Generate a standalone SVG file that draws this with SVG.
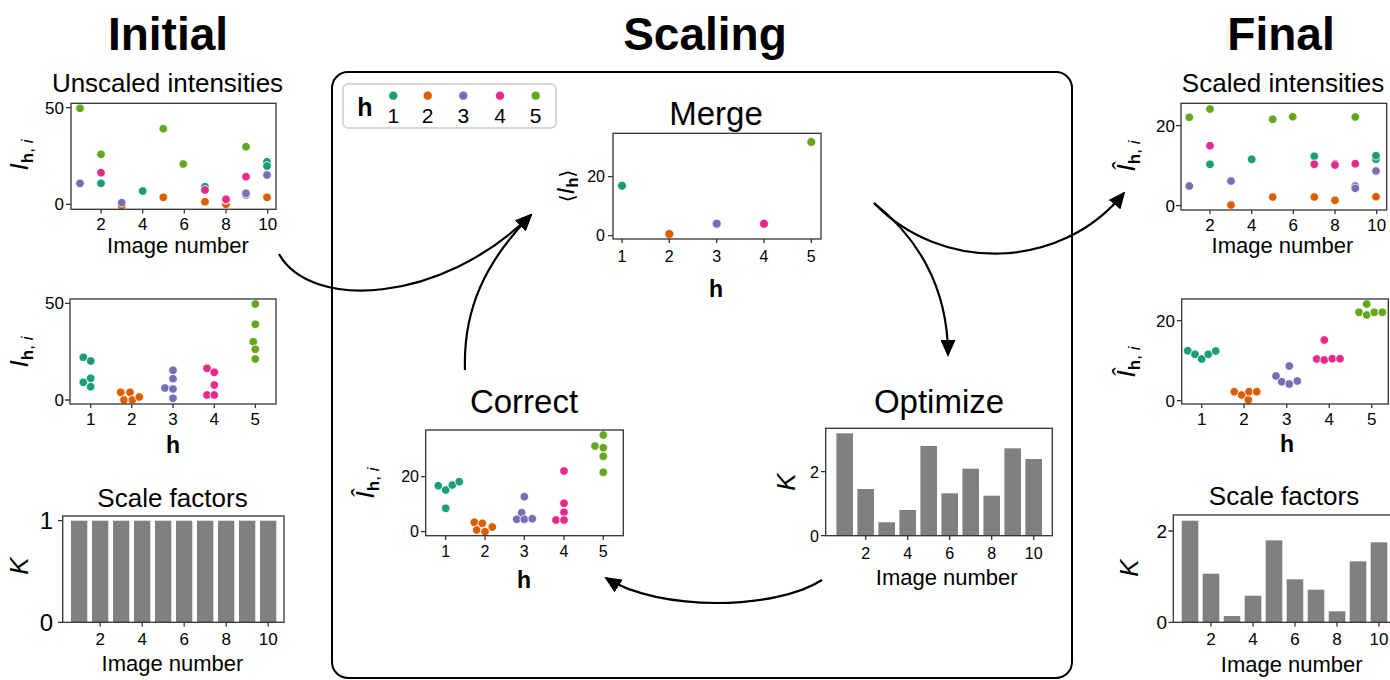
<svg xmlns="http://www.w3.org/2000/svg" width="1390" height="680" viewBox="0 0 1390 680">
<defs>
<style>
text{font-family:'Liberation Sans',Arial,Helvetica,sans-serif;fill:#000}
.hdr{font-size:46px;font-weight:bold;text-anchor:middle}
.ttl{font-size:26px;text-anchor:middle}
.big{font-size:33px;text-anchor:middle}
.xl{font-size:22px;text-anchor:middle}
.hl{font-size:23px;font-weight:bold;text-anchor:middle}
.tx{font-size:17px;text-anchor:middle}
.ty{font-size:17px;text-anchor:end}
.tym{font-size:16px;text-anchor:end}
.txm{font-size:16px;text-anchor:middle}
.tyb{font-size:24px;text-anchor:end}
.yl{font-size:26px;text-anchor:middle}
.it{font-style:italic}
.sub{font-size:17px}
.b{font-weight:bold}
.frame{fill:none;stroke:#333;stroke-width:1.3}
.tk{stroke:#333;stroke-width:1.3;fill:none}
.bar{fill:#808080}
.c1{fill:#1b9e77}.c2{fill:#d95f02}.c3{fill:#7570b3}.c4{fill:#e7298a}.c5{fill:#66a61e}
circle{stroke:#fff;stroke-width:0.8}
.conn{fill:none;stroke:#000;stroke-width:2.2}
</style>
<marker id="ah" viewBox="0 0 17 15" refX="15" refY="7.5" markerWidth="17" markerHeight="15" markerUnits="userSpaceOnUse" orient="auto">
<path d="M0,0 L17,7.5 L0,15 z" fill="#000"/>
</marker>
</defs>
<rect width="1390" height="680" fill="#fff"/>

<g id="headers">
<text class="hdr" x="168" y="50">Initial</text>
<text class="hdr" x="705" y="50">Scaling</text>
<text class="hdr" x="1281" y="50">Final</text>
</g>

<g id="scaling-box">
<rect x="332" y="72" width="740" height="606" rx="16" fill="none" stroke="#000" stroke-width="2"/>
</g>

<g id="legend">
<rect x="343" y="84" width="213" height="44" rx="5" fill="#fff" stroke="#ccc" stroke-width="1.5"/>
<text x="365" y="116" style="font-size:25px;font-weight:bold;text-anchor:middle">h</text>
<circle class="c1" cx="393.3" cy="95.7" r="4.6"/>
<circle class="c2" cx="427.7" cy="95.7" r="4.6"/>
<circle class="c3" cx="463.3" cy="95.7" r="4.6"/>
<circle class="c4" cx="500" cy="95.7" r="4.6"/>
<circle class="c5" cx="535.7" cy="95.7" r="4.6"/>
<text x="393.3" y="123" style="font-size:21px;text-anchor:middle">1</text>
<text x="427.7" y="123" style="font-size:21px;text-anchor:middle">2</text>
<text x="463.3" y="123" style="font-size:21px;text-anchor:middle">3</text>
<text x="500" y="123" style="font-size:21px;text-anchor:middle">4</text>
<text x="535.7" y="123" style="font-size:21px;text-anchor:middle">5</text>
</g>

<!-- Initial: unscaled intensities by image -->
<g id="initial-unscaled">
<text class="ttl" x="167.5" y="91.5">Unscaled intensities</text>
<path class="tk" d="M66,107.7H71M66,204.3H71M101,209.3V213.5M142.7,209.3V213.5M184.3,209.3V213.5M226,209.3V213.5M267.7,209.3V213.5"/>
<text class="ty" x="64" y="113.5">50</text>
<text class="ty" x="64" y="210">0</text>
<text class="tx" x="101" y="230">2</text><text class="tx" x="142.7" y="230">4</text><text class="tx" x="184.3" y="230">6</text><text class="tx" x="226" y="230">8</text><text class="tx" x="267.7" y="230">10</text>
<text class="xl" x="178" y="253">Image number</text>
<text class="yl" transform="translate(28,155) rotate(-90)"><tspan class="it">I</tspan><tspan class="sub" dy="5"><tspan class="b">h</tspan>, <tspan class="it">i</tspan></tspan></text>
<g>
<circle class="c1" cx="101" cy="183.3" r="4.3"/><circle class="c1" cx="142.7" cy="191" r="4.3"/><circle class="c1" cx="205" cy="186.7" r="4.3"/><circle class="c1" cx="267" cy="161.7" r="4.3"/><circle class="c1" cx="267" cy="166" r="4.3"/>
<circle class="c2" cx="121.7" cy="205.7" r="4.3"/><circle class="c2" cx="163.3" cy="197.3" r="4.3"/><circle class="c2" cx="205" cy="201.7" r="4.3"/><circle class="c2" cx="226" cy="204.3" r="4.3"/><circle class="c2" cx="267" cy="197.3" r="4.3"/>
<circle class="c3" cx="80" cy="183.3" r="4.3"/><circle class="c3" cx="121.7" cy="202.7" r="4.3"/><circle class="c3" cx="246" cy="195" r="4.3"/><circle class="c3" cx="246" cy="193.3" r="4.3"/><circle class="c3" cx="267" cy="175" r="4.3"/>
<circle class="c4" cx="101" cy="172.7" r="4.3"/><circle class="c4" cx="205" cy="190" r="4.3"/><circle class="c4" cx="226" cy="200" r="4.3"/><circle class="c4" cx="226" cy="199.3" r="4.3"/><circle class="c4" cx="246" cy="176.7" r="4.3"/>
<circle class="c5" cx="80" cy="108.3" r="4.3"/><circle class="c5" cx="101" cy="154.3" r="4.3"/><circle class="c5" cx="163.3" cy="128.7" r="4.3"/><circle class="c5" cx="183.3" cy="164" r="4.3"/><circle class="c5" cx="246" cy="146.7" r="4.3"/>
</g>
<rect class="frame" x="71" y="103.3" width="205" height="106"/>
</g>

<!-- Initial: unscaled intensities by h -->
<g id="initial-by-h">
<path class="tk" d="M65,303.3H70M65,400H70M90.7,404V408M131.7,404V408M173,404V408M214.3,404V408M255.3,404V408"/>
<text class="ty" x="64" y="309">50</text>
<text class="ty" x="64" y="406">0</text>
<text class="tx" x="90.7" y="425">1</text><text class="tx" x="131.7" y="425">2</text><text class="tx" x="173" y="425">3</text><text class="tx" x="214.3" y="425">4</text><text class="tx" x="255.3" y="425">5</text>
<text class="hl" x="173" y="453">h</text>
<text class="yl" transform="translate(28,352) rotate(-90)"><tspan class="it">I</tspan><tspan class="sub" dy="5"><tspan class="b">h</tspan>, <tspan class="it">i</tspan></tspan></text>
<g>
<circle class="c1" cx="83.3" cy="357.3" r="4.3"/><circle class="c1" cx="90.7" cy="361" r="4.3"/><circle class="c1" cx="83.3" cy="382.3" r="4.3"/><circle class="c1" cx="90.7" cy="378.3" r="4.3"/><circle class="c1" cx="90.7" cy="386.7" r="4.3"/>
<circle class="c2" cx="120.7" cy="392.3" r="4.3"/><circle class="c2" cx="130" cy="392.3" r="4.3"/><circle class="c2" cx="124" cy="400" r="4.3"/><circle class="c2" cx="132.3" cy="400" r="4.3"/><circle class="c2" cx="139.3" cy="397" r="4.3"/>
<circle class="c3" cx="165" cy="388" r="4.3"/><circle class="c3" cx="173" cy="370.3" r="4.3"/><circle class="c3" cx="173" cy="378.7" r="4.3"/><circle class="c3" cx="173" cy="389" r="4.3"/><circle class="c3" cx="173" cy="398.3" r="4.3"/>
<circle class="c4" cx="207" cy="368.3" r="4.3"/><circle class="c4" cx="214.3" cy="372.3" r="4.3"/><circle class="c4" cx="214.3" cy="385" r="4.3"/><circle class="c4" cx="207" cy="395" r="4.3"/><circle class="c4" cx="214.3" cy="395" r="4.3"/>
<circle class="c5" cx="255.3" cy="304" r="4.3"/><circle class="c5" cx="255.3" cy="324.3" r="4.3"/><circle class="c5" cx="253.3" cy="341.7" r="4.3"/><circle class="c5" cx="255.3" cy="349.3" r="4.3"/><circle class="c5" cx="255.3" cy="359" r="4.3"/>
</g>
<rect class="frame" x="70" y="299" width="206" height="105"/>
</g>

<!-- Initial: scale factors -->
<g id="initial-scale">
<text class="ttl" x="172.5" y="506.5">Scale factors</text>
<g class="bar">
<rect x="71" y="520.7" width="16.3" height="101.6"/><rect x="92" y="520.7" width="16.3" height="101.6"/><rect x="113" y="520.7" width="16.3" height="101.6"/><rect x="134" y="520.7" width="16.3" height="101.6"/><rect x="155" y="520.7" width="16.3" height="101.6"/>
<rect x="176" y="520.7" width="16.3" height="101.6"/><rect x="197" y="520.7" width="16.3" height="101.6"/><rect x="218" y="520.7" width="16.3" height="101.6"/><rect x="239" y="520.7" width="16.3" height="101.6"/><rect x="260" y="520.7" width="16.3" height="101.6"/>
</g>
<path class="tk" d="M58,520.7H62.7M58,622.3H62.7M100.2,622.3V626.5M142.2,622.3V626.5M184.2,622.3V626.5M226.2,622.3V626.5M268.2,622.3V626.5"/>
<text class="tyb" x="53" y="529">1</text>
<text class="tyb" x="53" y="631">0</text>
<text class="tx" x="100.2" y="645">2</text><text class="tx" x="142.2" y="645">4</text><text class="tx" x="184.2" y="645">6</text><text class="tx" x="226.2" y="645">8</text><text class="tx" x="268.2" y="645">10</text>
<text class="xl" x="172.5" y="671">Image number</text>
<text class="yl it" transform="translate(28,566) rotate(-90)">K</text>
<rect class="frame" x="62.7" y="516" width="221.3" height="106.3"/>
</g>

<!-- Scaling: Merge -->
<g id="merge">
<text class="big" x="716" y="125">Merge</text>
<path class="tk" d="M608,176.7H613M608,235.7H613M622,239V243M669.3,239V243M716.7,239V243M764,239V243M811.3,239V243"/>
<text class="tym" x="605" y="182">20</text>
<text class="tym" x="605" y="241">0</text>
<text class="txm" x="622" y="262">1</text><text class="txm" x="669.3" y="262">2</text><text class="txm" x="716.7" y="262">3</text><text class="txm" x="764" y="262">4</text><text class="txm" x="811.3" y="262">5</text>
<text class="hl" x="716" y="297">h</text>
<text style="font-size:24px;text-anchor:middle" transform="translate(574,186) rotate(-90)"><tspan font-family="'DejaVu Sans',sans-serif" font-size="20">⟨</tspan><tspan class="it">I</tspan><tspan class="sub b" dy="4">h</tspan><tspan dy="-4" font-family="'DejaVu Sans',sans-serif" font-size="20">⟩</tspan></text>
<circle class="c1" cx="622" cy="185.7" r="4.5"/>
<circle class="c2" cx="669.3" cy="234" r="4.5"/>
<circle class="c3" cx="716.7" cy="223.7" r="4.5"/>
<circle class="c4" cx="764" cy="223.7" r="4.5"/>
<circle class="c5" cx="811.3" cy="142" r="4.5"/>
<rect class="frame" x="613" y="133.3" width="208" height="105.7"/>
</g>

<!-- Scaling: Correct -->
<g id="correct">
<text class="big" x="524" y="413">Correct</text>
<path class="tk" d="M421,476.7H425.7M421,531.7H425.7M445.7,535.7V540M485,535.7V540M524.3,535.7V540M564,535.7V540M603.3,535.7V540"/>
<text class="tym" x="419" y="482">20</text>
<text class="tym" x="419" y="537">0</text>
<text class="txm" x="445.7" y="557">1</text><text class="txm" x="485" y="557">2</text><text class="txm" x="524.3" y="557">3</text><text class="txm" x="564" y="557">4</text><text class="txm" x="603.3" y="557">5</text>
<text class="hl" x="524" y="588">h</text>
<text class="yl" transform="translate(374,483) rotate(-90)"><tspan class="it">Î</tspan><tspan class="sub" dy="5"><tspan class="b">h</tspan>, <tspan class="it">i</tspan></tspan></text>
<g>
<circle class="c1" cx="438.3" cy="485.7" r="4.3"/><circle class="c1" cx="445.7" cy="490" r="4.3"/><circle class="c1" cx="452.3" cy="485" r="4.3"/><circle class="c1" cx="459.3" cy="481.7" r="4.3"/><circle class="c1" cx="445.7" cy="508.3" r="4.3"/>
<circle class="c2" cx="474.3" cy="522.3" r="4.3"/><circle class="c2" cx="482.3" cy="523.3" r="4.3"/><circle class="c2" cx="476.7" cy="530" r="4.3"/><circle class="c2" cx="485" cy="531.7" r="4.3"/><circle class="c2" cx="492.3" cy="527" r="4.3"/>
<circle class="c3" cx="524.3" cy="496.7" r="4.3"/><circle class="c3" cx="521.7" cy="512.7" r="4.3"/><circle class="c3" cx="516.7" cy="519.3" r="4.3"/><circle class="c3" cx="524.3" cy="519.3" r="4.3"/><circle class="c3" cx="532.3" cy="518.7" r="4.3"/>
<circle class="c4" cx="564" cy="471" r="4.3"/><circle class="c4" cx="564" cy="503.3" r="4.3"/><circle class="c4" cx="564" cy="512.3" r="4.3"/><circle class="c4" cx="556" cy="520" r="4.3"/><circle class="c4" cx="564" cy="520" r="4.3"/>
<circle class="c5" cx="603.3" cy="435" r="4.3"/><circle class="c5" cx="595" cy="446" r="4.3"/><circle class="c5" cx="603.3" cy="447.7" r="4.3"/><circle class="c5" cx="603.3" cy="456.3" r="4.3"/><circle class="c5" cx="603.3" cy="472.3" r="4.3"/>
</g>
<rect class="frame" x="425.7" y="430" width="197.6" height="105.7"/>
</g>

<!-- Scaling: Optimize -->
<g id="optimize">
<text class="big" x="939" y="413">Optimize</text>
<g class="bar">
<rect x="836.4" y="433.3" width="16.6" height="102.4"/><rect x="857.4" y="489" width="16.6" height="46.7"/><rect x="878.4" y="522.3" width="16.6" height="13.4"/><rect x="899.4" y="510" width="16.6" height="25.7"/><rect x="920.4" y="446" width="16.6" height="89.7"/>
<rect x="941.4" y="493.3" width="16.6" height="42.4"/><rect x="962.4" y="468.7" width="16.6" height="67"/><rect x="983.4" y="495.7" width="16.6" height="40"/><rect x="1004.4" y="448.3" width="16.6" height="87.4"/><rect x="1025.4" y="459" width="16.6" height="76.7"/>
</g>
<path class="tk" d="M821,471.7H825.7M821,535.7H825.7M865.7,535.7V540M907.7,535.7V540M949.7,535.7V540M991.7,535.7V540M1033.7,535.7V540"/>
<text class="tym" x="819" y="478">2</text>
<text class="tym" x="819" y="542">0</text>
<text class="txm" x="865.7" y="558.5">2</text><text class="txm" x="907.7" y="558.5">4</text><text class="txm" x="949.7" y="558.5">6</text><text class="txm" x="991.7" y="558.5">8</text><text class="txm" x="1033.7" y="558.5">10</text>
<text class="xl" x="946.7" y="585">Image number</text>
<text class="yl it" transform="translate(795,482) rotate(-90)">K</text>
<rect class="frame" x="825.7" y="428.3" width="226.6" height="107.4"/>
</g>

<!-- Final: scaled intensities by image -->
<g id="final-scaled">
<text class="ttl" x="1283" y="91.5">Scaled intensities</text>
<path class="tk" d="M1176,125.7H1181M1176,205.7H1181M1210,210V214M1251.7,210V214M1293.3,210V214M1335,210V214M1376.7,210V214"/>
<text class="ty" x="1175" y="131.5">20</text>
<text class="ty" x="1175" y="211.5">0</text>
<text class="tx" x="1210" y="231">2</text><text class="tx" x="1251.7" y="231">4</text><text class="tx" x="1293.3" y="231">6</text><text class="tx" x="1335" y="231">8</text><text class="tx" x="1376.7" y="231">10</text>
<text class="xl" x="1282.5" y="253.3">Image number</text>
<text class="yl" transform="translate(1135,156) rotate(-90)"><tspan class="it">Î</tspan><tspan class="sub" dy="5"><tspan class="b">h</tspan>, <tspan class="it">i</tspan></tspan></text>
<g>
<circle class="c1" cx="1210" cy="164.3" r="4.3"/><circle class="c1" cx="1251.7" cy="159.3" r="4.3"/><circle class="c1" cx="1314.3" cy="156.3" r="4.3"/><circle class="c1" cx="1376" cy="159.3" r="4.3"/><circle class="c1" cx="1376" cy="155.7" r="4.3"/>
<circle class="c2" cx="1231" cy="205" r="4.3"/><circle class="c2" cx="1272.7" cy="197" r="4.3"/><circle class="c2" cx="1314.3" cy="197" r="4.3"/><circle class="c2" cx="1335" cy="200.3" r="4.3"/><circle class="c2" cx="1376" cy="196.7" r="4.3"/>
<circle class="c3" cx="1189.3" cy="186" r="4.3"/><circle class="c3" cx="1231" cy="181" r="4.3"/><circle class="c3" cx="1355.3" cy="186" r="4.3"/><circle class="c3" cx="1355.3" cy="188.3" r="4.3"/><circle class="c3" cx="1376" cy="171" r="4.3"/>
<circle class="c4" cx="1210" cy="145.7" r="4.3"/><circle class="c4" cx="1314.3" cy="164.3" r="4.3"/><circle class="c4" cx="1335" cy="163.7" r="4.3"/><circle class="c4" cx="1335" cy="165" r="4.3"/><circle class="c4" cx="1355.3" cy="163.7" r="4.3"/>
<circle class="c5" cx="1189.3" cy="117.3" r="4.3"/><circle class="c5" cx="1210" cy="109" r="4.3"/><circle class="c5" cx="1272.7" cy="119.3" r="4.3"/><circle class="c5" cx="1292.7" cy="116.7" r="4.3"/><circle class="c5" cx="1355.3" cy="117" r="4.3"/>
</g>
<rect class="frame" x="1181" y="103.3" width="205.7" height="106.7"/>
</g>

<!-- Final: scaled intensities by h -->
<g id="final-by-h">
<path class="tk" d="M1177,320.7H1181.7M1177,400.7H1181.7M1201.7,404V408M1244,404V408M1286.7,404V408M1329.3,404V408M1371.7,404V408"/>
<text class="ty" x="1175" y="326.5">20</text>
<text class="ty" x="1175" y="406.5">0</text>
<text class="tx" x="1201.7" y="425">1</text><text class="tx" x="1244" y="425">2</text><text class="tx" x="1286.7" y="425">3</text><text class="tx" x="1329.3" y="425">4</text><text class="tx" x="1371.7" y="425">5</text>
<text class="hl" x="1287" y="452">h</text>
<text class="yl" transform="translate(1135,362) rotate(-90)"><tspan class="it">Î</tspan><tspan class="sub" dy="5"><tspan class="b">h</tspan>, <tspan class="it">i</tspan></tspan></text>
<g>
<circle class="c1" cx="1187.7" cy="350.7" r="4.3"/><circle class="c1" cx="1195" cy="354.3" r="4.3"/><circle class="c1" cx="1201.7" cy="359" r="4.3"/><circle class="c1" cx="1208.3" cy="354.3" r="4.3"/><circle class="c1" cx="1215.7" cy="351" r="4.3"/>
<circle class="c2" cx="1234.3" cy="391.7" r="4.3"/><circle class="c2" cx="1241.7" cy="395" r="4.3"/><circle class="c2" cx="1248.3" cy="400" r="4.3"/><circle class="c2" cx="1249" cy="391.7" r="4.3"/><circle class="c2" cx="1256.7" cy="391.7" r="4.3"/>
<circle class="c3" cx="1276" cy="376" r="4.3"/><circle class="c3" cx="1281.7" cy="381.7" r="4.3"/><circle class="c3" cx="1289.3" cy="366" r="4.3"/><circle class="c3" cx="1289.3" cy="384" r="4.3"/><circle class="c3" cx="1297.3" cy="381" r="4.3"/>
<circle class="c4" cx="1316.7" cy="359" r="4.3"/><circle class="c4" cx="1324.3" cy="340" r="4.3"/><circle class="c4" cx="1324.3" cy="360" r="4.3"/><circle class="c4" cx="1332.3" cy="358.7" r="4.3"/><circle class="c4" cx="1340" cy="358.7" r="4.3"/>
<circle class="c5" cx="1359" cy="312.3" r="4.3"/><circle class="c5" cx="1366.7" cy="304" r="4.3"/><circle class="c5" cx="1366.7" cy="315" r="4.3"/><circle class="c5" cx="1374.3" cy="312.3" r="4.3"/><circle class="c5" cx="1382.3" cy="312.3" r="4.3"/>
</g>
<rect class="frame" x="1181.7" y="299" width="206.6" height="105"/>
</g>

<!-- Final: scale factors -->
<g id="final-scale">
<text class="ttl" x="1284" y="505">Scale factors</text>
<g class="bar">
<rect x="1181.7" y="520.7" width="16.6" height="101.6"/><rect x="1202.7" y="573.7" width="16.6" height="48.6"/><rect x="1223.7" y="616" width="16.6" height="6.3"/><rect x="1244.7" y="595.7" width="16.6" height="26.6"/><rect x="1265.7" y="540.3" width="16.6" height="82"/>
<rect x="1286.7" y="579.3" width="16.6" height="43"/><rect x="1307.7" y="589.7" width="16.6" height="32.6"/><rect x="1328.7" y="611.3" width="16.6" height="11"/><rect x="1349.7" y="561.3" width="16.6" height="61"/><rect x="1370.7" y="542.3" width="16.6" height="80"/>
</g>
<path class="tk" d="M1168.5,531H1173.3M1168.5,622.3H1173.3M1211,622.3V626.5M1253,622.3V626.5M1295,622.3V626.5M1337,622.3V626.5M1379,622.3V626.5"/>
<text style="font-size:19px;text-anchor:end" x="1167" y="537.5">2</text>
<text style="font-size:19px;text-anchor:end" x="1167" y="629">0</text>
<text class="tx" x="1211" y="644.5">2</text><text class="tx" x="1253" y="644.5">4</text><text class="tx" x="1295" y="644.5">6</text><text class="tx" x="1337" y="644.5">8</text><text class="tx" x="1379" y="644.5">10</text>
<text class="xl" x="1291.7" y="671.5">Image number</text>
<text class="yl it" transform="translate(1138,568) rotate(-90)">K</text>
<rect class="frame" x="1173.3" y="515" width="230" height="107.3"/>
</g>

<g id="connectors">
<path class="conn" marker-end="url(#ah)" d="M279,254 C310,310 440,305 531,215"/>
<path class="conn" marker-end="url(#ah)" d="M465,370 C463,310 485,262 531,215"/>
<path class="conn" marker-end="url(#ah)" d="M874,203 C915,235 948,285 948,355"/>
<path class="conn" marker-end="url(#ah)" d="M874,203 C940,272 1060,272 1124,193"/>
<path class="conn" marker-end="url(#ah)" d="M822,580 C775,610 660,612 606,578"/>
</g>
</svg>
